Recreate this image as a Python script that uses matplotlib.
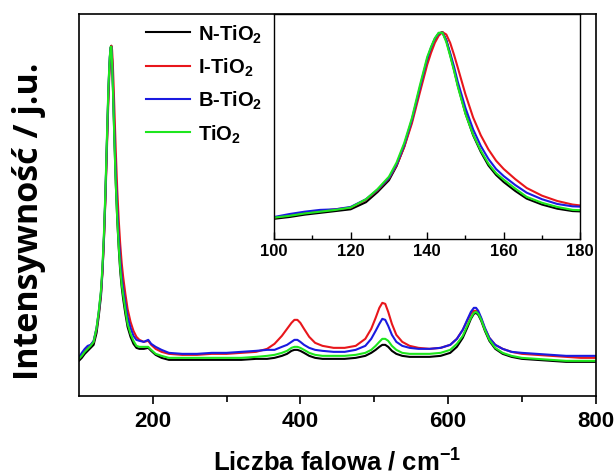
import numpy as np
import matplotlib
matplotlib.use('Agg')
import matplotlib.pyplot as plt

plt.rcParams['font.family'] = 'Liberation Sans'
plt.rcParams['font.weight'] = 'bold'
plt.rcParams['mathtext.fontset'] = 'custom'
plt.rcParams['mathtext.rm'] = 'Liberation Sans:bold'
plt.rcParams['mathtext.it'] = 'Liberation Sans:bold'
plt.rcParams['mathtext.bf'] = 'Liberation Sans:bold'
plt.rcParams['mathtext.default'] = 'rm'

# wavenumber (cm-1) and intensities (a.u.)
wn = [100, 104, 108, 112, 116, 120, 124, 127, 130, 132, 134, 136, 138, 140, 141, 142, 143, 144,
      145, 146, 147, 148, 150, 152, 154, 156, 158, 160, 163, 166, 170, 174, 178, 182, 188, 194,
      198, 204, 212, 222, 240, 260, 280, 300, 320, 340, 355, 365, 375, 382, 388, 392, 396, 400,
      405, 412, 420, 430, 445, 460, 475, 488, 496, 502, 507, 511, 515, 519, 524, 530, 538, 548,
      560, 575, 590, 603, 612, 620, 626, 631, 635, 638, 641, 645, 650, 656, 664, 674, 686, 700,
      720, 740, 760, 780, 800]

n_tio2 = [35, 38, 42, 45, 48, 51, 63, 80, 100, 124, 157, 200, 252, 303, 322, 338, 348, 350,
          336, 312, 287, 260, 213, 176, 148, 125, 109, 97, 82, 69, 59, 52, 48, 47, 47, 48,
          45, 41, 38, 36, 36, 36, 36, 36, 36, 37, 37, 38, 40, 42, 45, 46, 46, 45,
          43, 40, 38, 37, 37, 37, 38, 40, 43, 46, 49, 51, 51, 49, 45, 42, 40, 39,
          39, 39, 40, 43, 49, 58, 68, 77, 82, 83, 81, 75, 65, 55, 47, 42, 39, 37,
          36, 35, 34, 34, 34]

i_tio2 = [37, 41, 45, 48, 51, 54, 67, 83, 103, 125, 156, 196, 246, 295, 315, 332, 344, 350,
          346, 332, 312, 290, 245, 206, 176, 152, 133, 119, 102, 87, 74, 65, 59, 56, 54, 55,
          51, 47, 44, 42, 41, 41, 42, 42, 43, 44, 47, 52, 60, 67, 73, 76, 76, 73,
          67, 59, 53, 50, 48, 48, 50, 57, 67, 78, 88, 93, 92, 84, 72, 61, 54, 50,
          48, 47, 48, 51, 57, 66, 75, 82, 85, 85, 83, 77, 67, 58, 51, 47, 44, 42,
          41, 40, 39, 38, 38]

b_tio2 = [38, 43, 47, 50, 51, 55, 68, 84, 104, 127, 160, 202, 254, 305, 324, 339, 348, 349,
          336, 315, 292, 266, 222, 186, 158, 136, 119, 107, 92, 79, 68, 60, 56, 55, 54, 56,
          52, 49, 46, 43, 42, 42, 43, 43, 44, 45, 46, 46, 49, 51, 54, 56, 56, 54,
          51, 48, 46, 45, 44, 44, 46, 50, 57, 65, 72, 77, 76, 70, 61, 54, 50, 48,
          47, 47, 48, 51, 57, 66, 76, 84, 88, 88, 85, 78, 68, 58, 51, 47, 44, 43,
          42, 41, 40, 40, 40]

tio2 = [37, 40, 44, 47, 50, 54, 68, 85, 106, 130, 163, 205, 258, 308, 325, 340, 349, 349,
        333, 310, 285, 258, 212, 177, 150, 128, 112, 101, 86, 72, 62, 55, 50, 49, 49, 49,
        46, 42, 40, 38, 38, 38, 38, 38, 38, 39, 40, 41, 43, 45, 48, 49, 49, 48,
        46, 43, 41, 40, 40, 40, 41, 43, 46, 50, 54, 57, 57, 55, 50, 46, 43, 42,
        42, 42, 43, 46, 52, 60, 70, 78, 83, 84, 82, 76, 66, 56, 48, 43, 40, 38,
        37, 36, 35, 35, 35]

labels = ['N-TiO$_2$', 'I-TiO$_2$', 'B-TiO$_2$', 'TiO$_2$']
colors = ['black', '#e8161b', '#1a1ae0', '#1ee61e']
series = [n_tio2, i_tio2, b_tio2, tio2]

fig = plt.figure(figsize=(6.16, 4.77), dpi=100)
ax = fig.add_axes([0.128, 0.168, 0.839, 0.801])
for y, c, l in zip(series, colors, labels):
    ax.plot(wn, y, color=c, lw=1.5, label=l)
ax.set_xlim(100, 800)
ax.set_ylim(0, 382)
ax.set_xticks([200, 400, 600, 800])
ax.set_xticks([300, 500, 700], minor=True)
ax.set_yticks([])
ax.tick_params(axis='x', which='major', direction='out', length=6, width=1.2, labelsize=16, pad=4)
ax.tick_params(axis='x', which='minor', direction='out', length=4, width=1.2)
for s in ax.spines.values():
    s.set_linewidth(1.2)
ax.set_xlabel('Liczba falowa / cm$^{-1}$', fontsize=18.5, fontweight='bold', labelpad=12)
ax.set_ylabel('Intensywność / j.u.', fontsize=24.5, family='Open Sans', fontweight='bold')
ax.yaxis.set_label_coords(-0.064, 0.46)

leg = ax.legend(loc='upper left', bbox_to_anchor=(0.095, 1.025), frameon=False, fontsize=14.5,
                handlelength=2.2, handletextpad=0.4, labelspacing=0.55)

# inset
axi = fig.add_axes([0.445, 0.497, 0.497, 0.472])
for y, c in zip(series, colors):
    axi.plot(wn, y, color=c, lw=1.5)
axi.set_xlim(100, 180)
axi.set_ylim(1, 381)
axi.set_xticks([100, 120, 140, 160, 180])
axi.set_xticks([110, 130, 150, 170], minor=True)
axi.set_yticks([])
axi.tick_params(axis='x', which='major', direction='in', length=5, width=1.0, labelsize=12, pad=3)
axi.tick_params(axis='x', which='minor', direction='in', length=3, width=1.0)
for s in axi.spines.values():
    s.set_linewidth(1.0)

fig.savefig('out.png', dpi=100)
